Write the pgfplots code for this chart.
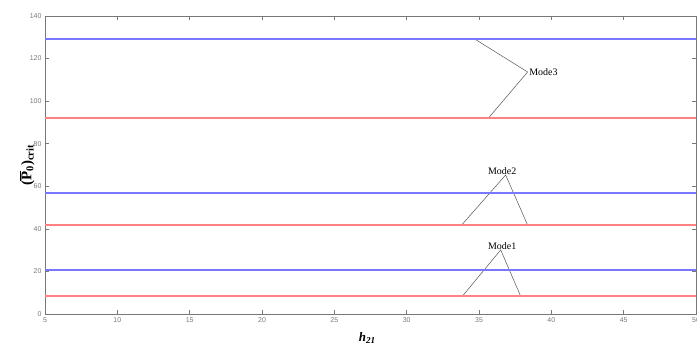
\documentclass[border=0pt]{standalone}
\usepackage{fontspec}
\setmainfont{Liberation Serif}
\newfontfamily\arialfont{Liberation Sans}
\usepackage{pgfplots}
\pgfplotsset{compat=1.18}
\definecolor{blueline}{RGB}{120,120,255}
\definecolor{redline}{RGB}{255,130,130}
\definecolor{axgray}{RGB}{120,120,120}
\begin{document}
\begin{tikzpicture}
\begin{axis}[
  scale only axis, width=651bp, height=298bp,
  at={(45bp,33bp)}, anchor=south west,
  xmin=5, xmax=50, ymin=0, ymax=140,
  xtick={5,10,...,50}, ytick={0,20,...,140},
  axis line style={axgray, line width=0.6pt},
  tick style={axgray, line width=0.6pt},
  major tick length=4bp,
  tick align=inside,
  ticklabel style={font=\arialfont\fontsize{7}{8}\selectfont, text=axgray},
  /pgf/number format/assume math mode=true,
  xlabel={\textbf{\textit{h}\textsubscript{\textit{21}}}},
  xlabel style={at={(axis description cs:0.495,0)}, anchor=center, yshift=-24bp, font=\fontsize{13}{14}\selectfont},
  ylabel={\textbf{(}\(\overline{\mbox{\textbf{P}}}\)\textsubscript{\textbf{0}}\textbf{)}\textsubscript{\textbf{crit}}},
  ylabel style={at={(axis description cs:-0.0276,0.5)}, anchor=center, font=\fontsize{15}{16}\selectfont},
  clip=false,
  every axis plot/.append style={no markers},
]
% annotations
\addplot[color=axgray!70!black, line width=0.5pt] coordinates {(34.7,129.2) (38.36,113.7) (35.66,92.1)};
\addplot[color=axgray!70!black, line width=0.5pt] coordinates {(33.8,41.8) (36.84,65.3) (38.36,41.8)};
\addplot[color=axgray!70!black, line width=0.5pt] coordinates {(33.87,8.5) (36.5,30.1) (37.87,8.5)};
\addplot[color=blueline, line width=1.2pt] coordinates {(5,129.2) (50,129.2)};
\addplot[color=redline, line width=1.2pt] coordinates {(5,92.1) (50,92.1)};
\addplot[color=blueline, line width=1.2pt] coordinates {(5,56.8) (50,56.8)};
\addplot[color=redline, line width=1.2pt] coordinates {(5,41.8) (50,41.8)};
\addplot[color=blueline, line width=1.2pt] coordinates {(5,20.7) (50,20.7)};
\addplot[color=redline, line width=1.2pt] coordinates {(5,8.5) (50,8.5)};
\node[anchor=west, inner sep=1bp, font=\fontsize{10}{11}\selectfont] at (axis cs:38.4,113.7) {Mode3};
\node[anchor=south, inner sep=1bp, font=\fontsize{10}{11}\selectfont] at (axis cs:36.6,65.0) {Mode2};
\node[anchor=south, inner sep=1bp, font=\fontsize{10}{11}\selectfont] at (axis cs:36.6,29.8) {Mode1};
\end{axis}
\pgfresetboundingbox
\useasboundingbox (0,0) rectangle (697bp,347bp);
\end{tikzpicture}
\end{document}
